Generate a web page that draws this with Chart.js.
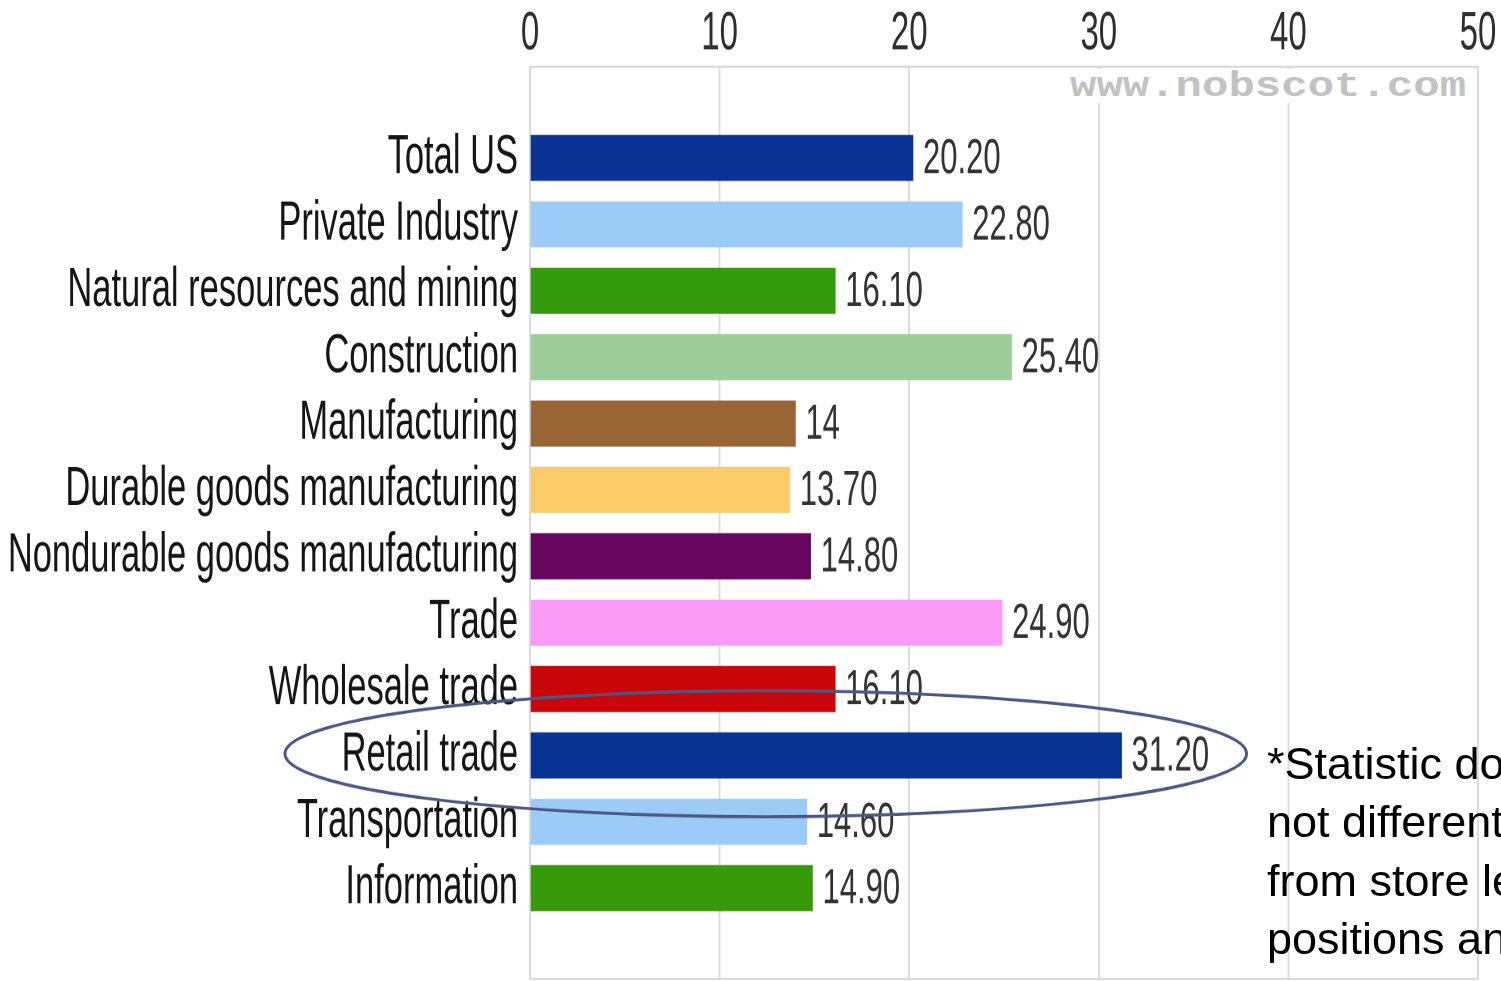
<!DOCTYPE html>
<html lang="en">
<head>
  <meta charset="UTF-8" />
  <title>Turnover rate by industry</title>
  <style>
    html, body {
      margin: 0; padding: 0;
      background: #fff;
      overflow: hidden;
    }
    body {
      width: 1501px;
      height: 981px;
      position: relative;
      font-family: 'Liberation Sans', Arial, sans-serif;
    }
    /* the chart is drawn narrow-and-tall, then stretched vertically */
    #stretch {
      position: absolute;
      left: 0; top: 0;
      width: 1501px;
      height: 606px;
      transform: scaleY(1.6188);
      transform-origin: 0 0;
    }
    #watermark {
      position: absolute;
      left: 1066px; top: 69px;
      width: 406px; height: 34px;
      background: #fff;
      color: #c2c2c2;
      font: bold 44px 'Liberation Mono', 'Courier New', monospace;
      line-height: 34px;
      white-space: nowrap;
      overflow: hidden;
      text-indent: 2px;
    }
    #watermark span {
      display: inline-block;
      transform: scaleY(0.8);
      transform-origin: 0 60%;
    }
    #note {
      position: absolute;
      left: 1267px; top: 735px;
      font-size: 45px;
      line-height: 58.3px;
      color: #000;
      white-space: pre;
    }
  </style>
</head>
<body>
  <div id="stretch">
    <canvas id="chart" width="1501" height="606"></canvas>
  </div>
  <div id="watermark"><span>www.nobscot.com</span></div>
  <div id="note">*Statistic does
not differentiate
from store level
positions and</div>

  <script src="https://cdn.jsdelivr.net/npm/chart.js"></script>
  <script>
    const categories = [
      'Total US', 'Private Industry', 'Natural resources and mining', 'Construction',
      'Manufacturing', 'Durable goods manufacturing', 'Nondurable goods manufacturing',
      'Trade', 'Wholesale trade', 'Retail trade', 'Transportation', 'Information'
    ];
    const turnover = [20.2, 22.8, 16.1, 25.4, 14, 13.7, 14.8, 24.9, 16.1, 31.2, 14.6, 14.9];
    const barColors = [
      '#0a3394', '#9dcbf7', '#359a0c', '#9dcd9a', '#9a6535', '#fbcb6a',
      '#66065f', '#f99cf6', '#c9070b', '#073394', '#9dcbf7', '#379a0a'
    ];
    const xTicks = [0, 10, 20, 30, 40, 50];
    const highlighted = 'Retail trade';

    const SY = 981 / 606;          // vertical stretch applied by CSS
    const FONT = "'Liberation Sans', Arial, sans-serif";
    const EDGE = '#dcdcdc';

    function formatValue(v) {
      return Number.isInteger(v) ? String(v) : v.toFixed(2);
    }

    // numbers printed to the right of each bar
    const valueLabels = {
      id: 'valueLabels',
      afterDatasetsDraw(chart) {
        const ctx = chart.ctx;
        const meta = chart.getDatasetMeta(0);
        ctx.save();
        ctx.font = '31px ' + FONT;
        ctx.fillStyle = '#333';
        ctx.textBaseline = 'middle';
        meta.data.forEach((bar, i) => {
          ctx.fillText(formatValue(turnover[i]), bar.x + 10, bar.y + 1);
        });
        ctx.restore();
      }
    };

    // hand-drawn style ring around the highlighted row
    const highlightRing = {
      id: 'highlightRing',
      afterDraw(chart) {
        const ctx = chart.ctx;
        const i = categories.indexOf(highlighted);
        const xs = chart.scales.x, ys = chart.scales.y;
        const left = chart.chartArea.left - 245;
        const right = xs.getPixelForValue(turnover[i]) + 125;
        const cy = ys.getPixelForValue(i) - 1;
        ctx.save();
        ctx.scale(1, 1 / SY);   // undo the stretch so the stroke stays even
        ctx.beginPath();
        ctx.ellipse((left + right) / 2, cy * SY, (right - left) / 2, 63, 0, 0, Math.PI * 2);
        ctx.strokeStyle = '#4b5784';
        ctx.lineWidth = 3;
        ctx.stroke();
        ctx.restore();
      }
    };

    // empty space above the first row and below the last one, in rows
    const pad = 1.37;

    new Chart(document.getElementById('chart'), {
      type: 'bar',
      data: {
        datasets: [{
          data: turnover.map((v, i) => ({ x: v, y: i })),
          backgroundColor: barColors,
          borderWidth: 0,
          barThickness: 27.8
        }]
      },
      options: {
        indexAxis: 'y',
        responsive: false,
        animation: false,
        devicePixelRatio: 2,
        layout: { padding: { left: 0, right: 23, top: 0, bottom: 1.2 } },
        plugins: {
          legend: { display: false },
          tooltip: { enabled: false }
        },
        scales: {
          x: {
            type: 'linear',
            position: 'top',
            min: 0,
            max: 50,
            afterBuildTicks: (scale) => { scale.ticks = xTicks.map(v => ({ value: v })); },
            afterFit: (scale) => { scale.height = 41.4; },
            ticks: {
              padding: 0,
              color: '#2e2e2e',
              font: { family: FONT, size: 33 }
            },
            grid: { color: EDGE, lineWidth: 2, drawTicks: false },
            border: { display: true, color: EDGE, width: 1.5 }
          },
          xBottom: {
            type: 'linear',
            position: 'bottom',
            min: 0,
            max: 50,
            afterFit: (scale) => { scale.height = 0; },
            ticks: { display: false },
            grid: { display: false, drawTicks: false, tickLength: 0 },
            border: { display: true, color: EDGE, width: 1.5 }
          },
          y: {
            type: 'linear',
            reverse: true,
            offset: false,
            bounds: 'data',
            min: -pad,
            max: categories.length - 1 + pad,
            afterBuildTicks: (scale) => { scale.ticks = categories.map((c, i) => ({ value: i })); },
            afterFit: (scale) => {
              scale.width = 530;
              scale.paddingTop = 0;
              scale.paddingBottom = 0;
            },
            ticks: {
              autoSkip: false,
              padding: 12,
              color: '#151515',
              font: { family: FONT, size: 34.5 },
              callback: (v) => categories[v]
            },
            grid: { display: false, drawTicks: false, tickLength: 0 },
            border: { display: false }
          }
        }
      },
      plugins: [valueLabels, highlightRing]
    });
  </script>
</body>
</html>
